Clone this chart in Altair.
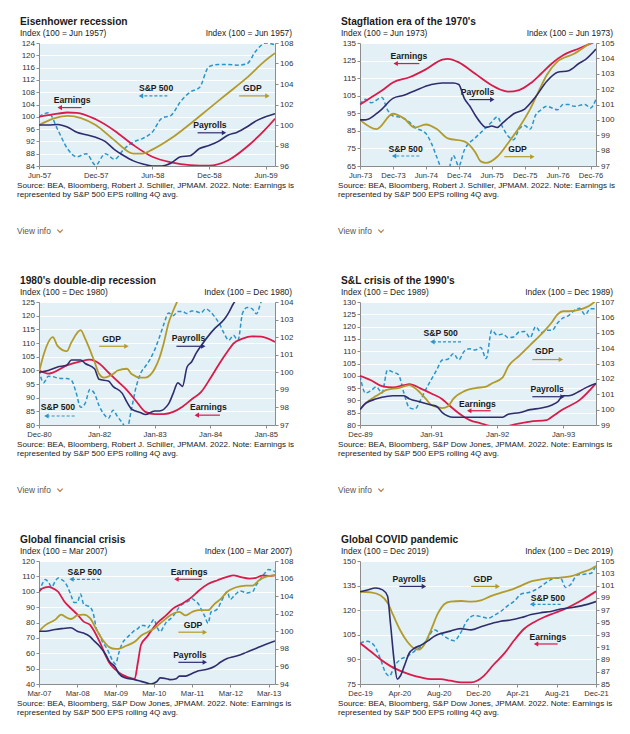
import json
import altair as alt
import pandas as pd

FONT = "Liberation Sans"
C_SP, C_EARN, C_GDP, C_PAY = "#2b95c9", "#d81b4a", "#b39b2b", "#2f2d6e"
BG = "#e3f0f5"
TXT = "#1a1a1a"
W, H = 236, 123

SOURCE_A = "Source: BEA, Bloomberg, Robert J. Schiller, JPMAM. 2022. Note: Earnings is"
SOURCE_B = "Source: BEA, Bloomberg, S&P Dow Jones, JPMAM. 2022. Note: Earnings is"
SOURCE_2 = "represented by S&P 500 EPS rolling 4Q avg."

# ---------------- Panel 1: Eisenhower recession ----------------
p1_title = "Eisenhower recession"
p1_base = "Index (100 = Jun 1957)"
p1_xdom = [0, 25]
p1_xticks = [0, 6, 12, 18, 24]
p1_xlabels = ["Jun-57", "Dec-57", "Jun-58", "Dec-58", "Jun-59"]
p1_ldom = [84, 124]
p1_lticks = [84, 88, 92, 96, 100, 104, 108, 112, 116, 120, 124]
p1_rdom = [96, 108]
p1_rticks = [96, 98, 100, 102, 104, 106, 108]
p1_sp_m = [0, 1, 2, 3, 4, 5, 6, 7, 8, 9, 10, 11, 12, 13, 14, 15, 16, 17, 18, 19, 20, 21, 22, 23, 24, 25]
p1_sp_v = [100, 101.3, 95.7, 89.7, 87, 88, 84.3, 88, 86.2, 89.5, 91.8, 93, 95, 99.5, 100.5, 105, 108,
           109.5, 116.3, 117, 117, 116.8, 117.2, 121.5, 124, 123.4]
p1_earn_m = [0, 2, 3, 4, 6, 8, 10, 12, 14, 16, 18, 20, 22, 24, 25]
p1_earn_v = [100, 101, 101.4, 101.3, 99.2, 95.5, 90.8, 87, 85.2, 84.3, 84.1, 85.8, 90.2, 96, 99.4]
p1_gdp_m = [0, 3, 6, 8, 10, 11, 12, 14, 16, 18, 20, 22, 24, 25]
p1_gdp_v = [100, 100.9, 100, 98.5, 97.2, 97.2, 97.6, 98.7, 100.1, 101.6, 103.1, 104.6, 106.3, 107]
p1_pay_m = [0, 1, 2, 3, 4, 5, 6, 7, 8, 9, 10, 11, 12, 13, 14, 15, 16, 17, 18, 19, 20, 21, 22, 23, 24, 25]
p1_pay_v = [100, 100, 100.05, 99.8, 99.3, 99.05, 98.8, 98.4, 97.6, 97, 96.5, 96.2, 96, 96, 96.3, 96.9,
            97, 97.7, 98, 98.4, 99, 99.3, 99.8, 100.4, 100.8, 101.1]
p1_lab_t = ["Earnings", "S&P 500", "GDP", "Payrolls"]
p1_lab_m = [3.5, 12.4, 22.6, 18.1]
p1_lab_v = [105.6, 109.5, 109.5, 97.3]
p1_arr_from = [4.5, 13.6, 21.2, 16.8]
p1_arr_to = [2.2, 10.8, 24.2, 19.6]
p1_arr_v = [103, 106.8, 106.8, 94.8]

# ---------------- Panel 2: Stagflation ----------------
p2_title = "Stagflation era of the 1970's"
p2_base = "Index (100 = Jun 1973)"
p2_xdom = [0, 43]
p2_xticks = [0, 6, 12, 18, 24, 30, 36, 42]
p2_xlabels = ["Jun-73", "Dec-73", "Jun-74", "Dec-74", "Jun-75", "Dec-75", "Jun-76", "Dec-76"]
p2_ldom = [65, 135]
p2_lticks = [65, 75, 85, 95, 105, 115, 125, 135]
p2_rdom = [97, 105]
p2_rticks = [97, 98, 99, 100, 101, 102, 103, 104, 105]
p2_sp_m = [0, 1, 2, 4, 5, 6, 7, 9, 10, 12, 13, 14, 15, 16, 17, 18, 19, 21, 22, 24, 25, 26, 27, 28, 29,
           30, 31, 32, 33, 34, 36, 37, 38, 39, 41, 42, 43]
p2_sp_v = [100, 103, 101, 104, 97, 93.5, 93, 90, 87, 83.5, 78, 70, 63, 62, 71, 65, 74, 81, 84, 90, 93,
           87, 82, 80, 86, 88, 86, 94, 97, 99, 97, 100, 100, 99, 100, 98, 103]
p2_earn_m = [0, 2, 4, 6, 9, 12, 15, 16, 18, 21, 24, 26, 27, 29, 31, 33, 35, 37, 40, 43]
p2_earn_v = [100, 104, 108, 112.5, 115.5, 120, 125.5, 126, 124, 117.5, 111, 108, 107.3, 108.2, 111.9,
             117.5, 123.5, 128, 132, 136]
p2_gdp_m = [0, 3, 6, 8, 10, 12, 14, 16, 19, 21, 22, 23, 25, 27, 29, 31, 33, 34, 36, 39, 42, 43]
p2_gdp_v = [100, 99.4, 100.4, 100.1, 99.5, 99.7, 99.4, 98.8, 98.6, 97.9, 97.3, 97.2, 97.6, 98.5, 99.5,
            100.7, 102.2, 102.9, 103.8, 104.3, 105, 105.2]
p2_pay_m = [0, 1, 3, 4, 6, 8, 10, 13, 15, 17, 18, 19, 20, 21, 22, 23, 24, 25, 26, 28, 30, 32, 34, 36,
            38, 40, 41, 43]
p2_pay_v = [100, 100, 100.4, 100.7, 101.4, 101.6, 101.9, 102.3, 102.4, 102.4, 102.3, 101.4, 100.9,
            100.3, 99.8, 99.5, 99.6, 99.5, 99.8, 100.4, 100.7, 101.5, 102.5, 103.1, 103.2, 103.7,
            103.9, 104.6]
p2_lab_t = ["Earnings", "Payrolls", "S&P 500", "GDP"]
p2_lab_m = [8.9, 21.4, 8.3, 28.7]
p2_lab_v = [127.4, 107.2, 74.6, 74.6]
p2_arr_from = [10.8, 19.9, 10.8, 26.3]
p2_arr_to = [6.5, 24.1, 6.2, 31.4]
p2_arr_v = [123.3, 102.8, 70.7, 70.3]

# ---------------- Panel 3: 1980's double-dip ----------------
p3_title = "1980's double-dip recession"
p3_base = "Index (100 = Dec 1980)"
p3_xdom = [0, 51]
p3_xticks = [0, 13, 25, 37, 49]
p3_xlabels = ["Dec-80", "Jan-82", "Jan-83", "Jan-84", "Jan-85"]
p3_ldom = [80, 125]
p3_lticks = [80, 85, 90, 95, 100, 105, 110, 115, 120, 125]
p3_rdom = [97, 104]
p3_rticks = [97, 98, 99, 100, 101, 102, 103, 104]
p3_sp_m = [0, 1, 2, 3, 4, 5, 6, 7, 8, 9, 10, 11, 12, 13, 14, 15, 16, 17, 18, 19, 20, 21, 22, 23, 24,
           25, 26, 27, 28, 29, 30, 31, 32, 33, 34, 35, 36, 37, 38, 39, 40, 41, 42, 43, 44, 45, 46, 47,
           48, 49]
p3_sp_v = [100, 95.5, 97.8, 97.7, 97.2, 97, 97, 96.4, 92, 86.5,
           88, 93, 91.5, 87, 84, 82.5, 85.4, 83, 80.8, 78.5,
           86, 94, 99, 101.5, 104, 107.5, 112, 117, 121, 120,
           121.5, 121.5, 120.8, 121.7, 121.5, 121, 122.5, 121.5, 119.5, 117,
           113.5, 111, 112.8, 111, 121, 123, 122.6, 120.7, 125, 127]
p3_earn_m = [0, 2, 3, 6, 9, 11, 13, 15, 17, 19, 21, 23, 25, 27, 29, 31, 33, 35, 37, 39, 41, 42, 44,
             46, 48, 51]
p3_earn_v = [100, 98.8, 99.2, 101.8, 103.3, 103.9, 102.5, 99.2, 96, 92.8, 88.7, 84.8, 84, 84, 84.8,
             86.7, 89.4, 92, 97, 102.5, 107.5, 109.8, 111.6, 112.4, 112.3, 110.4]
p3_gdp_m = [0, 1, 3, 4, 6, 7, 9, 10, 12, 13, 14, 16, 17, 19, 20, 22, 23, 25, 26, 27, 28, 29, 30, 31]
p3_gdp_v = [100, 101, 102, 101.5, 101.2, 101.7, 102.4, 101.9, 100.6, 99.9, 99.7, 99.9, 100.1, 100.2,
            99.9, 99.7, 99.7, 100.2, 100.8, 101.7, 102.8, 103.5, 104.1, 104.6]
p3_pay_m = [0, 2, 4, 6, 7, 9, 10, 12, 13, 15, 16, 18, 19, 20, 22, 23, 25, 26, 28, 29, 30, 31, 32, 33,
            34, 35, 37, 38, 40, 41, 42, 44]
p3_pay_v = [100, 100.1, 100.3, 100.4, 100.7, 100.7, 100.5, 100.2, 99.6, 99.5, 99.2, 98.8, 98.3, 97.9,
            97.7, 97.6, 97.8, 97.8, 98.2, 98.8, 99.4, 99.2, 100.3, 100.6, 101.1, 101.5, 102.2, 102.5,
            103, 103.4, 103.9, 104.5]
p3_lab_t = ["GDP", "Payrolls", "S&P 500", "Earnings"]
p3_lab_m = [15.7, 32.3, 4.1, 36.6]
p3_lab_v = [111.3, 111.7, 86.7, 86.7]
p3_arr_from = [13, 29.7, 7.7, 39.1]
p3_arr_to = [18.9, 35.5, 1.6, 34.1]
p3_arr_v = [108.8, 108.8, 83.3, 83.6]

# ---------------- Panel 4: S&L crisis ----------------
p4_title = "S&L crisis of the 1990's"
p4_base = "Index (100 = Dec 1989)"
p4_xdom = [0, 43]
p4_xticks = [0, 13, 25, 37]
p4_xlabels = ["Dec-89", "Jan-91", "Jan-92", "Jan-93"]
p4_ldom = [80, 130]
p4_lticks = [80, 85, 90, 95, 100, 105, 110, 115, 120, 125, 130]
p4_rdom = [99, 107]
p4_rticks = [99, 100, 101, 102, 103, 104, 105, 106, 107]
p4_sp_m = [0, 1, 2, 3, 4, 5, 6, 7, 8, 9, 10, 11, 12, 13, 14, 15, 16, 17, 18, 19, 20, 21, 22, 23, 24,
           25, 26, 27, 28, 29, 30, 31, 32, 33, 34, 35, 36, 37, 38, 39, 40, 41, 42, 43]
p4_sp_v = [100, 93, 94, 95.5, 93, 102.3, 101.5, 100.5, 93, 87,
           86.5, 90, 94.5, 98.5, 102.5, 106.4, 106.7, 109, 106.5, 110,
           111, 110.5, 111.5, 107, 118.5, 116.5, 117, 115.5, 115.8, 117.8,
           118, 115.5, 120, 117.5, 118.5, 118.5, 121.5, 123.5, 124.5, 126.5,
           127.5, 124.8, 127.3, 127.3]
p4_earn_m = [0, 2, 4, 6, 8, 9, 11, 13, 15, 16, 18, 20, 22, 24, 26, 28, 31, 34, 35, 37, 40, 43]
p4_earn_v = [100, 98.2, 95.8, 95.3, 96.2, 96.6, 94.9, 92.8, 90.5, 88.5, 84.8, 82, 80.7, 79.5, 79.2,
             80.2, 81.4, 82, 83.4, 86.4, 90.1, 96.9]
p4_gdp_m = [0, 1, 3, 5, 7, 9, 10, 12, 13, 15, 16, 17, 19, 21, 23, 24, 26, 27, 29, 31, 33, 35, 36, 37,
            38, 40, 42, 43]
p4_gdp_v = [100, 100.4, 100.9, 101.3, 101.4, 101.6, 101.4, 100.7, 100.3, 100.1, 100.2, 100.7, 101.2,
            101.4, 101.5, 101.7, 102.1, 102.8, 103.5, 104.2, 104.9, 105.7, 106.2, 106.4, 106.4, 106.5,
            106.8, 107.1]
p4_pay_m = [0, 1, 3, 4, 6, 8, 9, 11, 13, 14, 15, 17, 18, 20, 22, 24, 26, 27, 29, 31, 33, 35, 36, 37,
            38, 40, 41, 43]
p4_pay_v = [100, 100.4, 100.7, 100.8, 100.9, 100.9, 100.7, 100.5, 100.3, 100.2, 99.8, 99.5, 99.5,
            99.5, 99.5, 99.5, 99.5, 99.7, 99.8, 100, 100.1, 100.3, 100.5, 100.9, 100.9, 101.2, 101.4,
            101.7]
p4_lab_t = ["S&P 500", "GDP", "Payrolls", "Earnings"]
p4_lab_m = [14.7, 33.6, 34.1, 21.4]
p4_lab_v = [117.4, 110.1, 94.5, 88.6]
p4_arr_from = [18.4, 31.4, 31.4, 23.8]
p4_arr_to = [13.2, 36.6, 36.9, 19.9]
p4_arr_v = [113.8, 106.6, 91.5, 85.8]

# ---------------- Panel 5: Global financial crisis ----------------
p5_title = "Global financial crisis"
p5_base = "Index (100 = Mar 2007)"
p5_xdom = [0, 74]
p5_xticks = [0, 12, 24, 36, 48, 60, 72]
p5_xlabels = ["Mar-07", "Mar-08", "Mar-09", "Mar-10", "Mar-11", "Mar-12", "Mar-13"]
p5_ldom = [40, 120]
p5_lticks = [40, 50, 60, 70, 80, 90, 100, 110, 120]
p5_rdom = [94, 108]
p5_rticks = [94, 96, 98, 100, 102, 104, 106, 108]
p5_sp_m = [0, 1, 2, 3, 4, 5, 6, 7, 8, 9, 10, 11, 12, 13, 14, 15, 16, 17, 18, 19, 20, 21, 22, 23, 24,
           25, 26, 27, 28, 29, 30, 31, 32, 33, 34, 35, 36, 37, 38, 39, 40, 41, 42, 43, 44, 45, 46, 47,
           48, 49, 50, 51, 52, 53, 54, 55, 56, 57, 58, 59, 60, 61, 62, 63, 64, 65, 66, 67, 68, 69, 70,
           71, 72, 73, 74]
p5_sp_v = [100, 105, 108, 106, 103, 106.5, 109, 108, 106.5, 103,
           98, 93, 93, 98.5, 92, 91, 90, 86, 76, 72,
           67, 64, 60, 55.5, 53, 60, 66, 69, 71, 73,
           75, 76, 78, 78, 76.5, 79, 82, 77, 74, 77,
           80.5, 82, 84, 87, 90, 92, 93, 94, 95.5, 94,
           92, 88, 84, 79.5, 87, 87.5, 89, 93, 97, 100,
           95, 97, 99, 100.5, 100, 99, 99.5, 100, 104, 107,
           110, 112.5, 114.5, 114, 113]
p5_earn_m = [0, 1, 3, 4, 6, 8, 10, 12, 14, 16, 17, 19, 21, 22, 24, 26, 28, 30, 31, 32, 34, 35, 37, 40,
             42, 45, 48, 50, 53, 56, 59, 61, 63, 66, 68, 70, 72, 74]
p5_earn_v = [100, 102.1, 103.2, 102.6, 100, 93.5, 89.2, 85.3, 80.6, 78.4, 75.5, 67.5, 58, 54, 49.3,
             46.1, 44.4, 43.3, 54, 65.5, 71, 74.1, 79.5, 84.9, 89, 92.4, 96.7, 100.5, 105, 107.5,
             109.7, 110.7, 109.7, 108.6, 109, 110.5, 110.3, 110.7]
p5_gdp_m = [0, 2, 5, 7, 8, 10, 12, 14, 16, 18, 20, 22, 24, 25, 27, 30, 32, 34, 36, 38, 40, 42, 44, 46,
            48, 50, 53, 55, 57, 59, 61, 63, 65, 67, 69, 71, 74]
p5_gdp_v = [100, 100.7, 101.3, 101.9, 101.7, 101.4, 101.8, 101.9, 101.5, 100.2, 99, 98.2, 98, 98,
            98.3, 98.8, 99.5, 99.9, 100.3, 100.9, 101.5, 102, 102.2, 101.8, 102.2, 102.4, 102.4,
            103.1, 103.7, 104.5, 104.9, 105.1, 105.2, 105.2, 105.8, 106.2, 106.4]
p5_pay_m = [0, 2, 5, 7, 10, 12, 14, 16, 17, 19, 21, 22, 24, 25, 27, 30, 32, 34, 35, 37, 38, 40, 41,
            43, 44, 46, 48, 50, 53, 55, 57, 59, 61, 63, 65, 67, 69, 71, 74]
p5_pay_v = [100, 100, 100.2, 100.3, 100.4, 100, 99.8, 99.4, 99, 98.3, 97.3, 96.6, 95.9, 95.2, 94.7,
            94.5, 94.3, 94.1, 94, 94.3, 94.7, 94.6, 94.5, 94.6, 94.9, 94.9, 95.2, 95.5, 95.7, 96,
            96.5, 96.9, 97.1, 97.3, 97.6, 97.9, 98.2, 98.5, 98.9]
p5_lab_t = ["S&P 500", "Earnings", "GDP", "Payrolls"]
p5_lab_m = [14.3, 47.1, 48.3, 47.3]
p5_lab_v = [112.9, 112.9, 78.4, 58.6]
p5_arr_from = [19.1, 51, 43.7, 43.7]
p5_arr_to = [10.2, 43.1, 52, 52]
p5_arr_v = [108.1, 108.1, 73.7, 54.1]

# ---------------- Panel 6: Global COVID pandemic ----------------
p6_title = "Global COVID pandemic"
p6_base = "Index (100 = Dec 2019)"
p6_xdom = [0, 24]
p6_xticks = [0, 4, 8, 12, 16, 20, 24]
p6_xlabels = ["Dec-19", "Apr-20", "Aug-20", "Dec-20", "Apr-21", "Aug-21", "Dec-21"]
p6_ldom = [75, 150]
p6_lticks = [75, 90, 105, 120, 135, 150]
p6_rdom = [85, 105]
p6_rticks = [85, 87, 89, 91, 93, 95, 97, 99, 101, 103, 105]
p6_sp_m = [0, 0.75, 1.4, 2.1, 2.6, 3, 3.5, 4.1, 4.8, 5.5, 6.2, 6.9, 7.5, 8.2, 8.9, 9.6, 10.2, 10.9,
           11.6, 12.3, 13, 13.6, 14.3, 15, 15.7, 16.4, 17, 17.7, 18.4, 19.1, 19.8, 20.4, 20.9, 21.4,
           22.1, 22.8, 23.5, 24]
p6_sp_v = [100, 101, 98.8, 89.9, 81.9, 79.9, 85.9, 89.9, 91.9, 94.8,
           97.8, 102.8, 108.1, 105.8, 102.8, 101.4, 105.8, 113.7, 116.7, 116.1,
           115.1, 116.7, 119.2, 122.6, 125.6, 129.9, 130.6, 132, 134.5, 137.5,
           139.5, 139.5, 133.9, 135.5, 141.5, 141.9, 142.5, 147.8]
p6_earn_m = [0, 1.1, 2.1, 3.1, 4.1, 5.2, 6.2, 7.2, 8.2, 9.2, 10.3, 11.3, 11.9, 12.6, 13.6, 14.7, 15.7,
             16.7, 17.7, 18.7, 19.8, 20.8, 21.8, 22.8, 24]
p6_earn_v = [100, 94.8, 89.9, 85.9, 83, 80.6, 79, 78, 78, 77, 76, 76, 77, 80, 86.9, 93.8, 101.8, 108.7,
             112.7, 115.7, 118.3, 120.6, 123.6, 127, 131.5]
p6_gdp_m = [0, 1.1, 2.1, 2.8, 3.4, 4.1, 4.8, 5.5, 6, 6.5, 7.2, 7.9, 8.6, 9.2, 10.3, 11.3, 12.3, 13.3,
            14.3, 15.3, 16.4, 17.4, 18.4, 19.4, 20.4, 21.4, 22.5, 23.5, 24]
p6_gdp_v = [100, 99.9, 99.4, 98.2, 96.1, 93.7, 91.9, 90.8, 90.6, 91.3, 93.7, 96.4, 98, 98.4, 98.5,
            98.4, 98.6, 99.3, 99.8, 100.3, 101, 101.7, 102, 102.2, 102.3, 102.5, 103.1, 103.7, 104.2]
p6_pay_m = [0, 0.75, 1.6, 2.3, 2.8, 3.1, 3.5, 3.8, 4.1, 4.5, 5, 5.5, 6.2, 6.9, 7.5, 8.2, 9.2, 10.2,
            11.3, 12.3, 13.3, 14.3, 15.3, 16.4, 17.4, 18.4, 19.4, 20.4, 21.4, 22.5, 24]
p6_pay_v = [100, 100.3, 100.6, 100.3, 99.3, 94.8, 88.4, 85.8, 86.3, 87.9, 90, 90.8, 91.3, 92, 92.7,
            93.2, 93.6, 94, 93.8, 94.3, 94.8, 95.2, 95.4, 95.8, 96.3, 96.6, 96.8, 97.2, 97.4, 97.7,
            98.4]
p6_lab_t = ["Payrolls", "GDP", "S&P 500", "Earnings"]
p6_lab_m = [5, 12.5, 19.1, 19.1]
p6_lab_v = [138.9, 138.9, 127.6, 103.8]
p6_arr_from = [4, 11.3, 20.4, 20.1]
p6_arr_to = [6.5, 14, 17.5, 17.9]
p6_arr_v = [134.5, 134.5, 123.6, 99.4]

SERIES_COLOR = {"S&P 500": C_SP, "Earnings": C_EARN, "GDP": C_GDP, "Payrolls": C_PAY}


def text_mark(s, x, y, size, bold=False, align="left", color=TXT):
    return alt.Chart(pd.DataFrame({"t": [s]})).mark_text(
        align=align, baseline="alphabetic", fontSize=size, font=FONT,
        fontWeight="bold" if bold else "normal", color=color
    ).encode(x=alt.value(x), y=alt.value(y), text="t:N")


def build(p, source, view_info):
    t, base = p["title"], p["base"]
    xs = alt.Scale(domain=p["xdom"], nice=False, zero=False)
    expr = f"{json.dumps(p['xlabels'])}[indexof({json.dumps(p['xticks'])}, datum.value)]"
    common = dict(labelFont=FONT, labelColor="#333333", domainColor="#8c8c8c",
                  tickColor="#8c8c8c", tickSize=3, labelFlush=False, labelOverlap=False,
                  title=None)
    xax = alt.Axis(values=p["xticks"], labelExpr=expr, labelFontSize=7.6, labelPadding=2,
                   grid=False, **common)
    lax = alt.Axis(orient="left", values=p["lticks"], labelFontSize=8, labelPadding=1.5,
                   grid=True, gridColor="#ffffff", gridWidth=1, **common)
    rax = alt.Axis(orient="right", values=p["rticks"], labelFontSize=8, labelPadding=1.5,
                   grid=False, **common)
    ls = alt.Scale(domain=p["ldom"], nice=False, zero=False)
    rs = alt.Scale(domain=p["rdom"], nice=False, zero=False)

    def X(f):
        return alt.X(f"{f}:Q", scale=xs, axis=xax)

    def YL(f):
        return alt.Y(f"{f}:Q", scale=ls, axis=lax)

    def YR(f):
        return alt.Y(f"{f}:Q", scale=rs, axis=rax)

    sp = alt.Chart(pd.DataFrame({"m": p["sp_m"], "v": p["sp_v"]})).mark_line(
        color=C_SP, strokeWidth=1.5, strokeDash=[4, 2.5], interpolate="monotone", clip=True
    ).encode(x=X("m"), y=YL("v"))
    earn = alt.Chart(pd.DataFrame({"m": p["earn_m"], "v": p["earn_v"]})).mark_line(
        color=C_EARN, strokeWidth=1.8, interpolate="monotone", clip=True
    ).encode(x=X("m"), y=YL("v"))
    gdp = alt.Chart(pd.DataFrame({"m": p["gdp_m"], "v": p["gdp_v"]})).mark_line(
        color=C_GDP, strokeWidth=1.8, interpolate="monotone", clip=True
    ).encode(x=X("m"), y=YR("v"))
    pay = alt.Chart(pd.DataFrame({"m": p["pay_m"], "v": p["pay_v"]})).mark_line(
        color=C_PAY, strokeWidth=1.6, interpolate="monotone", clip=True
    ).encode(x=X("m"), y=YR("v"))

    ann = pd.DataFrame({
        "t": p["lab_t"], "lm": p["lab_m"], "lv": p["lab_v"],
        "a": p["arr_from"], "b": p["arr_to"], "av": p["arr_v"],
    })
    ann["c"] = ann["t"].map(SERIES_COLOR)
    ann["sh"] = ["triangle-left" if b < a else "triangle-right" for a, b in zip(ann["a"], ann["b"])]
    solid = ann[ann["t"] != "S&P 500"]
    dashed = ann[ann["t"] == "S&P 500"]

    labels = alt.Chart(ann).mark_text(
        font=FONT, fontSize=8.6, fontWeight="bold", color=TXT, baseline="middle"
    ).encode(x=X("lm"), y=YL("lv"), text="t:N")
    rules_s = alt.Chart(solid).mark_rule(strokeWidth=1.2).encode(
        x=X("a"), x2="b:Q", y=YL("av"), color=alt.Color("c:N", scale=None))
    rules_d = alt.Chart(dashed).mark_rule(strokeWidth=1.2, strokeDash=[3, 2]).encode(
        x=X("a"), x2="b:Q", y=YL("av"), color=alt.Color("c:N", scale=None))
    heads = alt.Chart(ann).mark_point(filled=True, size=26, opacity=1).encode(
        x=X("b"), y=YL("av"), color=alt.Color("c:N", scale=None),
        shape=alt.Shape("sh:N", scale=None))

    deco = [
        text_mark(t, -19, -18, 10.2, bold=True),
        text_mark(base, -19, -7, 8.4),
        text_mark(base, W + 17, -7, 8.4, align="right"),
        text_mark(source, -22, H + 22, 8.1),
        text_mark(SOURCE_2, -22, H + 31, 8.1),
    ]
    if view_info:
        deco.append(text_mark("View info", -22, H + 68, 8.4, color="#555555"))
        deco.append(alt.Chart(pd.DataFrame({"k": [0]})).mark_point(
            shape="M-1,-0.5L0,0.5L1,-0.5", filled=False, strokeWidth=1.2, size=28,
            color="#b8763f", opacity=1
        ).encode(x=alt.value(21), y=alt.value(H + 65)))

    left = alt.layer(sp, earn, rules_s, rules_d, heads, labels, *deco)
    right = alt.layer(gdp, pay)
    return alt.layer(left, right).resolve_scale(y="independent").properties(width=W, height=H)


def pack(prefix):
    g = globals()
    keys = ["title", "base", "xdom", "xticks", "xlabels", "ldom", "lticks", "rdom", "rticks",
            "sp_m", "sp_v", "earn_m", "earn_v", "gdp_m", "gdp_v", "pay_m", "pay_v",
            "lab_t", "lab_m", "lab_v", "arr_from", "arr_to", "arr_v"]
    return {k: g[f"{prefix}_{k}"] for k in keys}


panels = [
    build(pack("p1"), SOURCE_A, True),
    build(pack("p2"), SOURCE_A, True),
    build(pack("p3"), SOURCE_A, True),
    build(pack("p4"), SOURCE_B, True),
    build(pack("p5"), SOURCE_B, False),
    build(pack("p6"), SOURCE_B, False),
]

chart = alt.concat(*panels, columns=2, spacing={"row": 40, "column": 43}).properties(
    padding={"left": 9, "top": 9, "right": 0, "bottom": 0}
).configure(font=FONT).configure_view(fill=BG, stroke=None)

chart.save("out.html", embed_options={"renderer": "svg", "actions": False})
